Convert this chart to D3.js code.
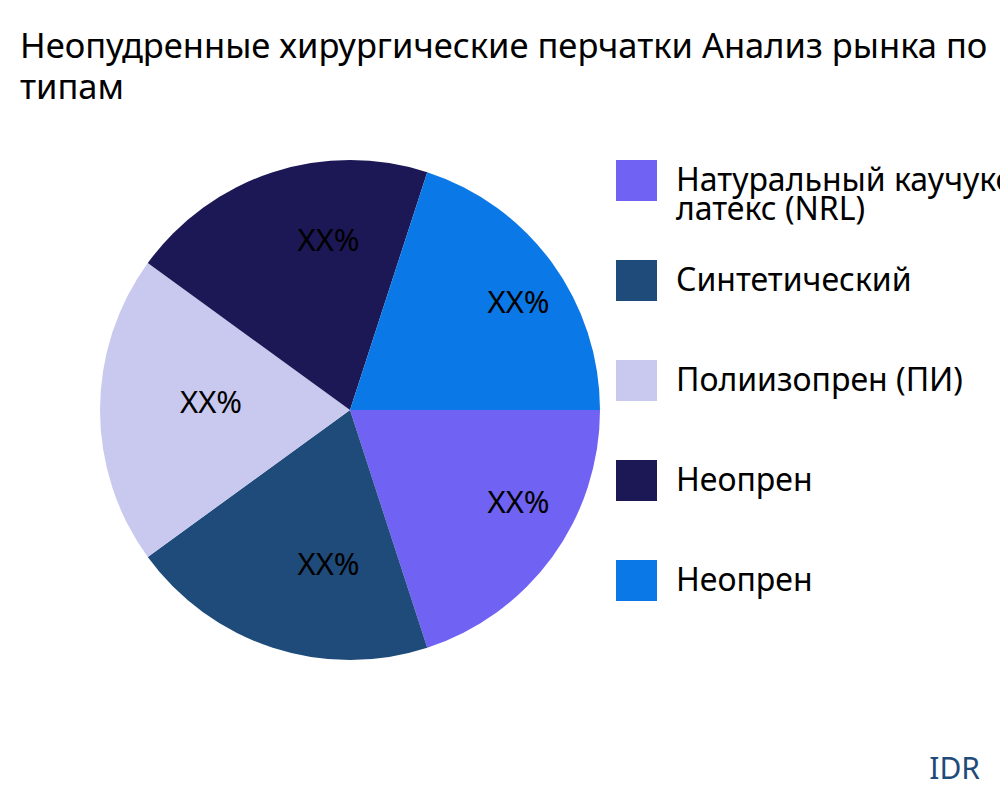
<!DOCTYPE html>
<html><head><meta charset="utf-8">
<script src="https://cdn.jsdelivr.net/npm/d3@7"></script>
<style>body{margin:0;background:#fff;overflow:hidden}</style>
</head><body>
<svg id="c" width="1000" height="800"></svg>
<script>
const categories = ["Натуральный каучуковый латекс (NRL)", "Синтетический", "Полиизопрен (ПИ)", "Неопрен", "Неопрен"];
const legendLines = [["Натуральный каучуковый", "латекс (NRL)"], ["Синтетический"], ["Полиизопрен (ПИ)"], ["Неопрен"], ["Неопрен"]];
const values = [20, 20, 20, 20, 20];
const labels = ["XX%", "XX%", "XX%", "XX%", "XX%"];
const colors = ["#7063f3", "#1f4b7a", "#c9c9ef", "#1c1755", "#0a78e6"];

const svg = d3.select("#c");
const font = "'Noto Sans', 'Open Sans', sans-serif";
svg.append("text").attr("x", 20).attr("y", 58).attr("font-family", font).attr("font-size", 34.5).attr("fill", "#000")
  .text("Неопудренные хирургические перчатки Анализ рынка по");
svg.append("text").attr("x", 20).attr("y", 99).attr("font-family", font).attr("font-size", 34.5).attr("fill", "#000")
  .text("типам");

const cx = 350, cy = 410, r = 250;
const pie = d3.pie().sort(null).startAngle(Math.PI / 2).endAngle(Math.PI / 2 + 2 * Math.PI);
const arcs = pie(values);
const arc = d3.arc().innerRadius(0).outerRadius(r);
const labelArc = d3.arc().innerRadius(r * 0.68).outerRadius(r * 0.68);
const g = svg.append("g").attr("transform", `translate(${cx},${cy})`);
g.selectAll("path").data(arcs).enter().append("path").attr("d", arc).attr("fill", (d, i) => colors[i]);
g.selectAll("text").data(arcs).enter().append("text")
  .attr("transform", d => `translate(${labelArc.centroid(d)})`)
  .attr("text-anchor", "start").attr("dy", "0.1em")
  .attr("font-family", font).attr("font-size", 31).attr("fill", "#000")
  .text((d, i) => labels[i]);

const lg = svg.append("g");
categories.forEach((c, i) => {
  const y = 160 + i * 100;
  lg.append("rect").attr("x", 616).attr("y", y).attr("width", 41).attr("height", 41).attr("fill", colors[i]);
  legendLines[i].forEach((t, j) => {
    lg.append("text").attr("x", 676).attr("y", y + 31 + j * 29).attr("font-family", font).attr("font-size", 32)
      .attr("fill", "#000").text(t);
  });
});

svg.append("text").attr("x", 980).attr("y", 779).attr("text-anchor", "end").attr("font-family", font)
  .attr("font-size", 30).attr("fill", "#1f4b7a").text("IDR");
</script>
</body></html>
